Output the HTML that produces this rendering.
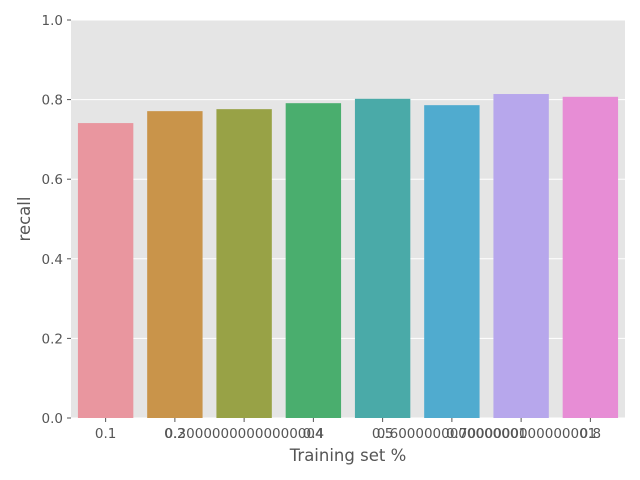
<!DOCTYPE html>
<html><head><meta charset="utf-8"><style>body{margin:0;background:#fff}svg{display:block;font-family:"DejaVu Sans","Liberation Sans",sans-serif}</style></head>
<body>
<svg id="chart" width="640" height="480">
<rect x="71" y="20" width="554" height="398" fill="#e5e5e5"/>
<g id="grid"></g><g id="bars"></g><g id="axes"></g>
<text x="348" y="461" text-anchor="middle" font-size="16.5" fill="#555">Training set %</text>
<text x="30" y="219" text-anchor="middle" font-size="16.5" fill="#555" transform="rotate(-90 30 219)">recall</text>
</svg>
<script>
const categories=["0.1","0.2","0.30000000000000004","0.4","0.5","0.6000000000000001","0.7000000000000001","0.8"];
const values=[0.741,0.771,0.776,0.791,0.802,0.786,0.814,0.807];
const colors=["#e9969f","#c9944a","#98a246","#4aae6e","#4aaaa8","#50abcf","#b7a7ec","#e78dd5"];
const yTicks=[0,0.2,0.4,0.6,0.8,1.0];
const yTickLabels=["0.0","0.2","0.4","0.6","0.8","1.0"];
const L=71,R=625,T=20,B=418;
const ns="http://www.w3.org/2000/svg";
const y=v=>B-(v/1)*(B-T);
const slot=(R-L)/categories.length;
const x=i=>L+slot*(i+0.5);
function mk(t,a,p){const e=document.createElementNS(ns,t);for(const k in a)e.setAttribute(k,a[k]);p.appendChild(e);return e;}
const g=document.getElementById('grid'),b=document.getElementById('bars'),ax=document.getElementById('axes');
yTicks.forEach((v,i)=>{
 const l=mk('line',{x1:L,x2:R,y1:y(v),y2:y(v),stroke:'#fff','stroke-width':1},g);
 
 
 const tk=mk('line',{x1:L-4,x2:L,y1:y(v),y2:y(v),stroke:'#555'},ax);
 
 
 const t=mk('text',{x:L-8,y:y(v)+5,'text-anchor':'end','font-size':13.5,fill:'#555'},ax);
 t.textContent=yTickLabels[i];
 
 
});
categories.forEach((c,i)=>{
 const w=slot*0.8;
 const r=mk('rect',{x:x(i)-w/2,y:y(values[i]),width:w,height:B-y(values[i]),fill:colors[i]},b);
 
 
 const tk=mk('line',{x1:x(i),x2:x(i),y1:B,y2:B+4,stroke:'#555'},ax);
 
 
 const t=mk('text',{x:x(i),y:B+20,'text-anchor':'middle','font-size':13.5,fill:'#555'},ax);
 t.textContent=c;
 
 
});
</script>
</body></html>
